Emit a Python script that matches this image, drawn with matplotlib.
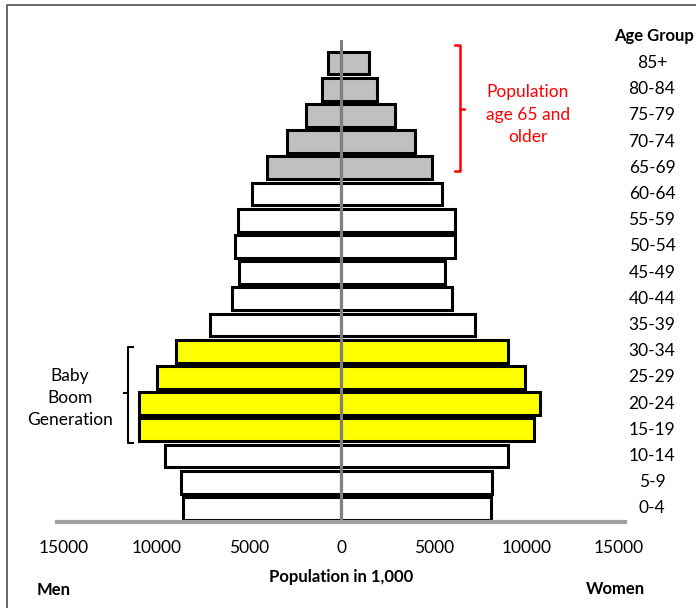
import numpy as np
import matplotlib
matplotlib.use("Agg")
from matplotlib import pyplot as plt
from matplotlib.lines import Line2D
from matplotlib.transforms import blended_transform_factory

plt.rcParams['font.family'] = ['Lato', 'DejaVu Sans']

# population in 1,000, youngest group first
ages = ['0-4', '5-9', '10-14', '15-19', '20-24', '25-29', '30-34', '35-39',
        '40-44', '45-49', '50-54', '55-59', '60-64', '65-69', '70-74',
        '75-79', '80-84', '85+']
men = [8590, 8660, 9530, 10920, 10920, 9980, 8970, 7100,
       5910, 5550, 5760, 5600, 4830, 4040, 2940, 1930, 1060, 740]
women = [8090, 8140, 9030, 10430, 10740, 9950, 9030, 7240,
         5980, 5620, 6130, 6130, 5440, 4900, 3960, 2920, 1910, 1510]
groups = ['plain'] * 3 + ['boom'] * 4 + ['plain'] * 6 + ['old'] * 5
colours = {'plain': 'white', 'boom': '#FFFF00', 'old': '#C0C0C0'}
xticks = [-15000, -10000, -5000, 0, 5000, 10000, 15000]

W, H = 696, 608
fig = plt.figure(figsize=(W / 100, H / 100), dpi=100)

def fx(px):
    return px / W

def fy(py):
    return 1 - py / H

ax = fig.add_axes([fx(57), fy(521.5), fx(625) - fx(57), fy(40) - fy(521.5)])

y = np.arange(len(ages))
fill = [colours[g] for g in groups]
ax.barh(y, -np.array(men), height=0.87, color=fill, edgecolor='black', linewidth=2.2)
ax.barh(y, women, height=0.87, color=fill, edgecolor='black', linewidth=2.2)

ax.set_xlim(-15380, 15330)
ax.set_ylim(-0.5, 17.88)
ax.axvline(0, color='#808080', linewidth=2.2)
ax.axhline(-0.5, color='#A0A0A0', linewidth=3, clip_on=False)
for s in ax.spines.values():
    s.set_visible(False)
ax.set_yticks([])
ax.set_xticks(xticks)
ax.set_xticklabels([str(abs(t)) for t in xticks], fontsize=12.5)
ax.tick_params(axis='x', length=0, pad=13)

# age group labels on the right
tr = blended_transform_factory(fig.transFigure, ax.transData)
for i, lab in enumerate(ages):
    ax.text(fx(652), i, lab, transform=tr, ha='center', va='center', fontsize=12.5)
fig.text(fx(694), fy(36), 'Age Group', ha='right', va='center', fontsize=12, fontweight='bold')

fig.text(fx(341), fy(577), 'Population in 1,000', ha='center', va='center', fontsize=12, fontweight='bold')
fig.text(fx(37), fy(590), 'Men', ha='left', va='center', fontsize=12, fontweight='bold')
fig.text(fx(645), fy(589), 'Women', ha='right', va='center', fontsize=12, fontweight='bold')

# red bracket for the 65+ groups
red = '#FF0000'
fig.add_artist(Line2D([fx(455), fx(460), fx(460), fx(455)], [fy(45), fy(45), fy(171), fy(171)],
                      color=red, linewidth=1.8))
fig.add_artist(Line2D([fx(460), fx(464)], [fy(109), fy(109)], color=red, linewidth=1.8))
fig.text(fx(528), fy(115), 'Population\nage 65 and\nolder', color=red, ha='center', va='center',
         fontsize=12.5, linespacing=1.5)

# black bracket for the baby boomers
fig.add_artist(Line2D([fx(133), fx(128), fx(128), fx(133)], [fy(347), fy(347), fy(443), fy(443)],
                      color='black', linewidth=1.5))
fig.add_artist(Line2D([fx(128), fx(124)], [fy(393), fy(393)], color='black', linewidth=1.5))
fig.text(fx(70), fy(398), 'Baby\nBoom\nGeneration', ha='center', va='center',
         fontsize=12.5, linespacing=1.45)

# chart frame, only left and top edges are visible
fig.add_artist(Line2D([fx(7), fx(7), fx(700)], [fy(612), fy(5), fy(5)], color='#505050', linewidth=1.2))

fig.savefig('out.png', dpi=100)
